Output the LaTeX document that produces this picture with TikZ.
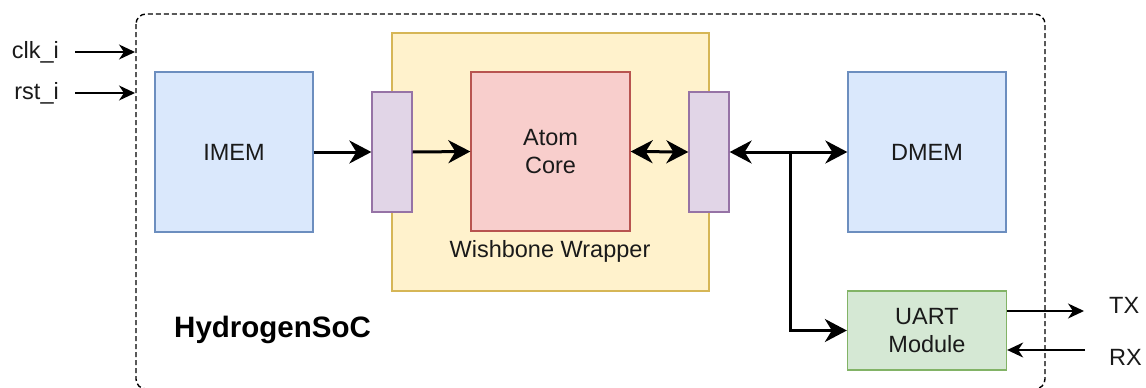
\documentclass[tikz,border=0pt]{standalone}
\usepackage{fontspec}
\setmainfont{Liberation Sans}
\usetikzlibrary{arrows.meta}
\definecolor{bluef}{HTML}{DAE8FC}\definecolor{blued}{HTML}{6C8EBF}
\definecolor{yelf}{HTML}{FFF2CC}\definecolor{yeld}{HTML}{D6B656}
\definecolor{redf}{HTML}{F8CECC}\definecolor{redd}{HTML}{B85450}
\definecolor{purf}{HTML}{E1D5E7}\definecolor{purd}{HTML}{9673A6}
\definecolor{grnf}{HTML}{D5E8D4}\definecolor{grnd}{HTML}{82B366}
\definecolor{txt}{HTML}{1A1A1A}
\begin{document}
\begin{tikzpicture}[x=1pt,y=-1pt,
  lbl/.style={text=txt,font=\fontsize{23.5}{27}\selectfont,inner sep=0pt,align=center},
  blk/.style={draw,line width=1.3pt,inner sep=0pt,align=center,text=txt,font=\fontsize{23.5}{27.5}\selectfont},
  bigarrow/.style={line width=3pt,-{Stealth[length=22pt,width=23pt,inset=7pt]}},
  bigboth/.style={line width=3pt,{Stealth[length=22pt,width=23pt,inset=7pt]}-{Stealth[length=22pt,width=23pt,inset=7pt]}},
  thinarrow/.style={line width=1.6pt,-{Stealth[length=16pt,width=15pt,inset=5pt]}}]
\useasboundingbox (0,0) rectangle (1146,388);
% outer SoC boundary
\draw[line width=1.4pt,dash pattern=on 5pt off 3pt,rounded corners=10pt] (136,14) rectangle (1045,389);
% blocks
\node[blk,fill=bluef,draw=blued,minimum width=158pt,minimum height=160pt] (imem) at (234,152) {IMEM};
\node[blk,fill=yelf,draw=yeld,minimum width=317pt,minimum height=258pt] (wrap) at (550.5,162) {};
\node[lbl] (wraplbl) at (550,251) {Wishbone Wrapper};
\node[blk,fill=purf,draw=purd,minimum width=40pt,minimum height=120pt] (lp) at (392,152) {};
\node[blk,fill=redf,draw=redd,minimum width=159pt,minimum height=159pt] (atom) at (550.5,151.5) {Atom\\Core};
\node[blk,fill=purf,draw=purd,minimum width=40pt,minimum height=120pt] (rp) at (709,152) {};
\node[blk,fill=bluef,draw=blued,minimum width=158pt,minimum height=160pt] (dmem) at (927,152) {DMEM};
\node[blk,fill=grnf,draw=grnd,minimum width=159pt,minimum height=79pt] (uart) at (927,330.5) {UART\\Module};
% labels
\node[lbl,anchor=east] (clk) at (59,52) {clk\_i};
\node[lbl,anchor=east] (rst) at (59,93) {rst\_i};
\node[inner sep=0pt,anchor=west,text=black,font=\fontsize{29.5}{34}\selectfont\bfseries] (soc) at (174,330) {HydrogenSoC};
\node[lbl,anchor=west] (tx) at (1109,305) {TX};
\node[lbl,anchor=west] (rx) at (1109,357) {RX};
% coordinates
\coordinate (clks) at (75,52); \coordinate (clke) at (135,52);
\coordinate (rsts) at (75,93); \coordinate (rste) at (135,93);
\coordinate (txe) at (1084,311); \coordinate (rxs) at (1085,350);
\coordinate (j) at (790,152);
% connectors
\draw[thinarrow] (clks) -- (clke);
\draw[thinarrow] (rsts) -- (rste);
\draw[bigarrow] (imem.east) -- (lp.west);
\draw[bigarrow] (lp.east) -- (atom.west);
\draw[bigboth] (atom.east) -- (rp.west);
\draw[bigboth] (rp.east) -- (dmem.west);
\draw[bigarrow] (j) |- (uart.west);
\draw[thinarrow] (uart.east |- txe) -- (txe);
\draw[thinarrow] (rxs) -- (uart.east |- rxs);
\end{tikzpicture}
\end{document}
